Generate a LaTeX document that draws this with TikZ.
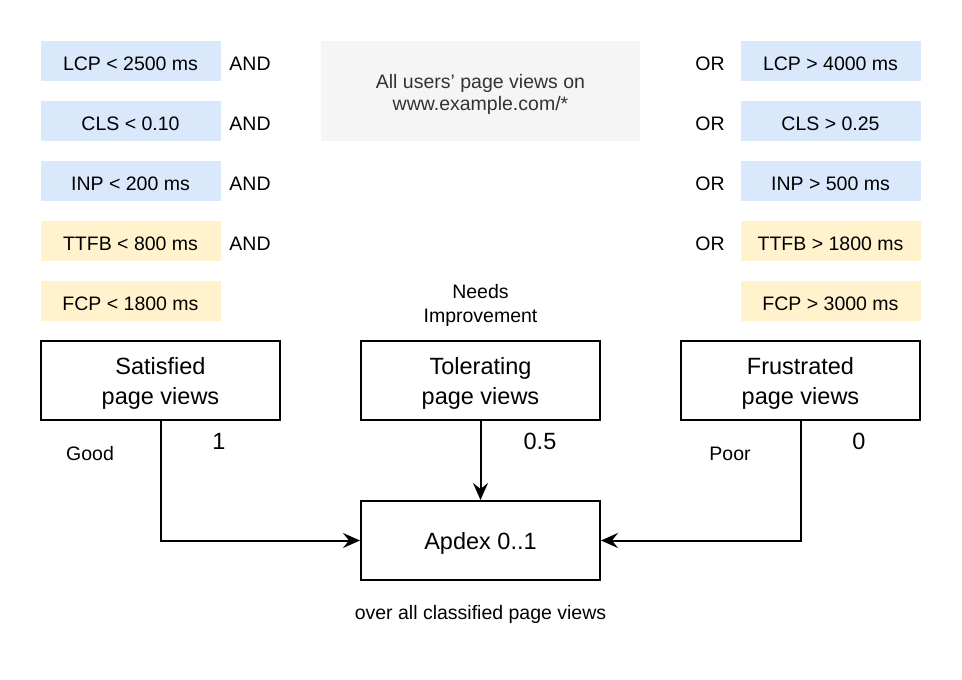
\documentclass[tikz,border=0pt]{standalone}
\usepackage{fontspec}
\setmainfont{Liberation Sans}
\usetikzlibrary{arrows.meta}
\definecolor{cblue}{HTML}{DAE8FC}
\definecolor{cyellow}{HTML}{FFF2CC}
\definecolor{cgray}{HTML}{F5F5F5}
\definecolor{ctext}{HTML}{333333}
\tikzset{
  small/.style={font=\fontsize{19.5}{24}\selectfont},
  big/.style={font=\fontsize{23.5}{30}\selectfont},
  metric/.style={small, minimum width=180pt, minimum height=40pt, inner sep=0pt, text height=18pt, text depth=0pt},
  bluebox/.style={metric, fill=cblue},
  yellowbox/.style={metric, fill=cyellow},
  mainbox/.style={draw=black, line width=2pt, minimum width=239pt, minimum height=79pt, inner sep=0pt},
  boxtext/.style={big, align=center, inner sep=0pt, yshift=-3pt},
  lbl/.style={small, inner sep=0pt},
  num/.style={big, inner sep=0pt},
  arr/.style={line width=2pt, -{Stealth[length=17pt,width=15pt,inset=6pt]}},
}
\begin{document}
\begin{tikzpicture}[x=1pt,y=-1pt]
\useasboundingbox (0,0) rectangle (962,680);
% left metrics
\node[bluebox] (l1) at (130.5,61) {LCP < 2500 ms};
\node[bluebox] (l2) at (130.5,121) {CLS < 0.10};
\node[bluebox] (l3) at (130.5,181) {INP < 200 ms};
\node[yellowbox] (l4) at (130.5,241) {TTFB < 800 ms};
\node[yellowbox] (l5) at (130.5,301) {FCP < 1800 ms};
\node[lbl] (a1) at (250,63.5) {AND};
\node[lbl] (a2) at (250,123.5) {AND};
\node[lbl] (a3) at (250,183.5) {AND};
\node[lbl] (a4) at (250,243.5) {AND};
% right metrics
\node[bluebox] (r1) at (830.5,61) {LCP > 4000 ms};
\node[bluebox] (r2) at (830.5,121) {CLS > 0.25};
\node[bluebox] (r3) at (830.5,181) {INP > 500 ms};
\node[yellowbox] (r4) at (830.5,241) {TTFB > 1800 ms};
\node[yellowbox] (r5) at (830.5,301) {FCP > 3000 ms};
\node[lbl] (o1) at (710,63.5) {OR};
\node[lbl] (o2) at (710,123.5) {OR};
\node[lbl] (o3) at (710,183.5) {OR};
\node[lbl] (o4) at (710,243.5) {OR};
% gray box
\node[fill=cgray, minimum width=319pt, minimum height=100pt, inner sep=0pt,
  label={[text=ctext, font=\fontsize{19.5}{22}\selectfont, align=center, inner sep=0pt, yshift=-3pt]center:All users' page views on\\www.example.com/*}] (all) at (480.5,91) {};
% main boxes
\node[mainbox, label={[boxtext]center:Satisfied\\page views}] (sat) at (160.5,380.5) {};
\node[mainbox, label={[boxtext]center:Tolerating\\page views}] (tol) at (480.5,380.5) {};
\node[mainbox, label={[boxtext]center:Frustrated\\page views}] (fru) at (800.5,380.5) {};
\node[mainbox, label={[boxtext]center:Apdex 0..1}] (apdex) at (480.5,540.5) {};
\node[lbl, align=center] (needs) at (480.5,305) {Needs\\Improvement};
\node[lbl] (good) at (90,454) {Good};
\node[lbl] (poor) at (730,454) {Poor};
\node[num] (n1) at (219,441) {1};
\node[num] (n2) at (540,441) {0.5};
\node[num] (n0) at (859,441) {0};
\node[lbl] (over) at (480.5,614) {over all classified page views};
% connectors
\draw[arr] (sat.south) |- (apdex.west);
\draw[arr] (tol.south) -- (apdex.north);
\draw[arr] (fru.south) |- (apdex.east);
\end{tikzpicture}
\end{document}
